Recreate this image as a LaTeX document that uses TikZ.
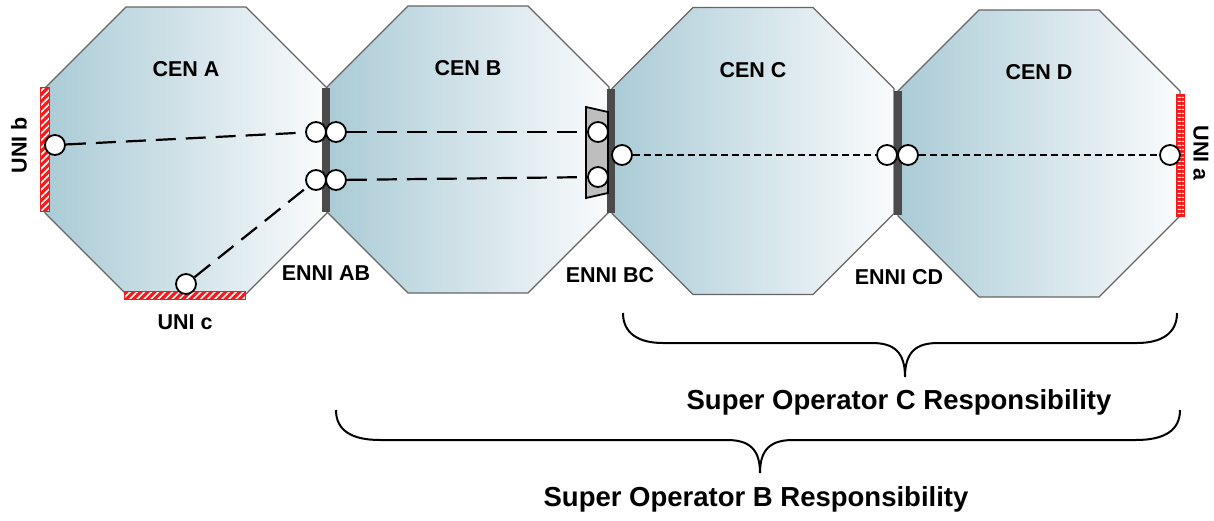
\documentclass[tikz,border=0pt]{standalone}
\usepackage{fontspec}
\setmainfont{Liberation Sans}
\usetikzlibrary{patterns.meta}
\definecolor{cenblue}{RGB}{170,203,214}
\definecolor{cenwhite}{RGB}{250,251,252}
\definecolor{ennigray}{RGB}{75,75,75}
\definecolor{unired}{RGB}{245,25,25}
\definecolor{trapgray}{RGB}{190,190,190}
\tikzset{
	cen/.style={left color=cenblue, right color=cenwhite, draw=black!60, line width=1.2pt},
	ennibar/.style={fill=ennigray, inner sep=0pt, minimum width=8pt, minimum height=124pt},
	unibar/.style={draw=unired, line width=1pt, inner sep=0pt, preaction={fill=unired}, pattern color=white},
	port/.style={circle, draw=black, fill=white, line width=1.8pt, minimum size=20pt, inner sep=0pt},
	longdash/.style={line width=2.2pt, dash pattern=on 20pt off 10pt},
	shortdash/.style={line width=1.6pt, dash pattern=on 7pt off 4pt},
	lbl/.style={font=\fontsize{21.5}{24}\selectfont\bfseries},
	resp/.style={font=\fontsize{27.5}{31}\selectfont\bfseries},
	brace/.style={line width=2pt}
}
\begin{document}
\begin{tikzpicture}[x=1pt, y=-1pt]
	\useasboundingbox (0,0) rectangle (1214,521);
	% Carrier Ethernet Networks
	\foreach \n/\cx/\cy in {A/186/150.5, B/468/149.5, C/753/151, D/1039/153.5} {
		\shade[cen] (\cx-60,\cy-143.5) -- (\cx+60,\cy-143.5) -- (\cx+141,\cy-62.5) -- (\cx+141,\cy+62.5)
			-- (\cx+60,\cy+143.5) -- (\cx-60,\cy+143.5) -- (\cx-141,\cy+62.5) -- (\cx-141,\cy-62.5) -- cycle;
		\node[lbl] (cen\n) at (\cx,\cy-81) {CEN \n};
	}
	% ENNI bars
	\node[ennibar] (enniAB) at (326,150) {};
	\node[ennibar] (enniBC) at (611,151.5) {};
	\node[ennibar] (enniCD) at (898,153.5) {};
	% UNI bars (red)
	\node[unibar, pattern={Lines[angle=45,distance=5pt,line width=1.6pt]}, minimum width=9pt, minimum height=124pt] (uniB) at (44.5,150) {};
	\node[unibar, pattern={Lines[angle=45,distance=5pt,line width=1.6pt]}, minimum width=121pt, minimum height=8pt] (uniC) at (184.5,295) {};
	\node[unibar, pattern={Lines[angle=0,distance=4pt,line width=1.5pt]}, minimum width=8pt, minimum height=122pt] (uniA) at (1180,156) {};
	% gateway at ENNI BC
	\draw[fill=trapgray, line width=1.8pt] (586,107) -- (608,112) -- (608,193) -- (586,198) -- cycle;
	% ports
	\node[port] (bPort) at (55,145) {};
	\node[port] (cPort) at (186,284) {};
	\node[port] (aPort) at (1170,155) {};
	\node[port] (abUL) at (316,132) {};
	\node[port] (abUR) at (336,132) {};
	\node[port] (abLL) at (316,180) {};
	\node[port] (abLR) at (336,180) {};
	\node[port] (bcU) at (598,132) {};
	\node[port] (bcL) at (598,177) {};
	\node[port] (bcR) at (622,155) {};
	\node[port] (cdL) at (887,155) {};
	\node[port] (cdR) at (908,155) {};
	% EVCs
	\draw[longdash] (bPort) -- (abUL);
	\draw[longdash] (abUR) -- (bcU);
	\draw[longdash] (abLR) -- (bcL);
	\draw[longdash] (cPort) -- (abLL);
	\draw[shortdash] (bcR) -- (cdL);
	\draw[shortdash] (cdR) -- (aPort);
	% labels
	\node[lbl] (lblAB) at (326,273) {ENNI AB};
	\node[lbl] (lblBC) at (610,275) {ENNI BC};
	\node[lbl] (lblCD) at (899,277) {ENNI CD};
	\node[lbl] (lblC) at (185,322) {UNI c};
	\node[lbl, rotate=90] (lblB) at (19,145) {UNI b};
	\node[lbl, rotate=-90] (lblA) at (1201,153) {UNI a};
	% Super Operator C
	\draw[brace] (623,313) .. controls (623,333) and (638,343) .. (663,343) -- (872,343)
		.. controls (894,343) and (905,352) .. (905,377) .. controls (905,352) and (916,343) .. (938,343)
		-- (1137,343) .. controls (1162,343) and (1177,333) .. (1177,313);
	\node[resp] (respC) at (899,402) {Super Operator C Responsibility};
	% Super Operator B
	\draw[brace] (336,410) .. controls (336,430) and (351,440) .. (380,440) -- (727,440)
		.. controls (749,440) and (760,449) .. (760,473) .. controls (760,449) and (771,440) .. (793,440)
		-- (1136,440) .. controls (1165,440) and (1180,430) .. (1180,410);
	\node[resp] (respB) at (756,499) {Super Operator B Responsibility};
\end{tikzpicture}
\end{document}
